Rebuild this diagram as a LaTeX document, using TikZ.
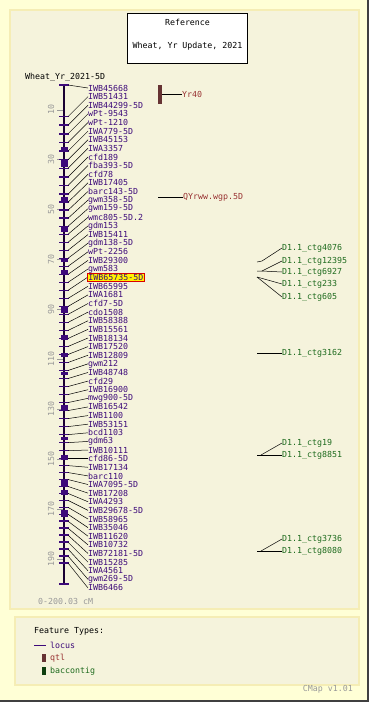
\documentclass[tikz,border=0pt]{standalone}
\usepackage{fontspec}
\setmainfont{DejaVu Sans Mono}
\definecolor{outerbg}{HTML}{FFFFD6}
\definecolor{panelbg}{HTML}{F5F3DC}
\definecolor{panelrule}{HTML}{F5EDB5}
\definecolor{locuscol}{HTML}{3D0A7A}
\definecolor{barcol}{HTML}{1A0033}
\definecolor{qtlcol}{HTML}{663333}
\definecolor{qtltext}{HTML}{993333}
\definecolor{ctgcol}{HTML}{1E6B1E}
\definecolor{ctgbox}{HTML}{0F3F0F}
\definecolor{rulecol}{HTML}{999999}
\begin{document}
\begin{tikzpicture}[x=1pt,y=-1pt,
  font=\fontsize{8.3}{9}\selectfont,
  lbl/.style={anchor=west, inner sep=0pt, text=locuscol},
  hl/.style={anchor=west, inner sep=1pt, text=locuscol, fill=yellow, draw=red!85!black, line width=0.8pt},
  conn/.style={black, line width=0.5pt},
  locustick/.style={locuscol, line width=1.5pt},
  qtl/.style={anchor=west, inner sep=0pt, text=qtltext},
  ctg/.style={anchor=west, inner sep=0pt, text=ctgcol},
  plain/.style={anchor=west, inner sep=0pt},
  panel/.style={draw=panelrule, fill=panelbg, line width=1.5pt}]
\useasboundingbox (0,0) rectangle (369,702);
\fill[outerbg] (0,0) rectangle (369,702);
\draw[panel] (10,10) rectangle (359,609);
\draw[panel] (15,617) rectangle (359,685);
\draw[gray!50!black, line width=1.5pt] (368,0) -- (368,701) -- (0,701);

% title box
\node[draw=black, fill=white, line width=0.6pt, minimum width=120pt, minimum height=50pt, inner sep=0pt] (refbox) at (187.5,38.5) {};
\node[inner sep=0pt] (reft) at (187.5,22) {Reference};
\node[inner sep=0pt] (refs) at (187.5,46) {Wheat, Yr Update, 2021};

% map title
\node[plain] (maptitle) at (25,77) {Wheat\_Yr\_2021-5D};

% ruler
\foreach \c in {10,30,...,190} {
  \pgfmathsetmacro\ry{85+2.495*\c}
  \draw[rulecol, line width=0.8pt] (57,\ry) -- (63,\ry);
  \node[rotate=90, text=rulecol, inner sep=0pt] (r\c) at (51,\ry) {\c};
}

% chromosome bar
\draw[barcol, line width=2pt] (64,85) -- (64,584);
\draw[locustick] (59,85) -- (69,85);
\draw[locustick] (59,584) -- (69,584);
\foreach \a/\b in {147/150,159/167,197/202,227/232,258/262,270/274,307/313,335/340,353/357,372/375,405/410,437/440,455/460,480/487,490/495,510/517}
  \fill[locuscol] (60.5,\a) rectangle (67.5,\b);

% loci
\foreach \name [count=\i from 0] in {IWB45668,IWB51431,IWB44299-5D,wPt-9543,wPt-1210,IWA779-5D,IWB45153,IWA3357,cfd189,fba393-5D,cfd78,IWB17405,barc143-5D,gwm358-5D,gwm159-5D,wmc805-5D.2,gdm153,IWB15411,gdm138-5D,wPt-2256,IWB29300,gwm583,IWB65735-5D,IWB65995,IWA1681,cfd7-5D,cdo1508,IWB58388,IWB15561,IWB18134,IWB17520,IWB12809,gwm212,IWB48748,cfd29,IWB16900,mwg900-5D,IWB16542,IWB1100,IWB53151,bcd1103,gdm63,IWB10111,cfd86-5D,IWB17134,barc110,IWA7095-5D,IWB17208,IWA4293,IWB29678-5D,IWB58965,IWB35046,IWB11620,IWB10732,IWB72181-5D,IWB15285,IWA4561,gwm269-5D,IWB6466} {
  \pgfmathsetmacro\ly{88+8.62*\i}
  \pgfmathsetmacro\off{\i==0 ? -3 : (\i<=10 ? 20 : (\i<=43 ? 20*(43-\i)/33 : -25*(\i-43)/15))}
  \pgfmathsetmacro\lo{\ly+\off}
  \coordinate (loc\i) at (68,\lo);
  \ifnum\i=22
    \node[hl] (lab\i) at (87,\ly) {\name};
  \else
    \node[lbl] (lab\i) at (88,\ly) {\name};
  \fi
  \draw[locustick] (59,\lo) -- (69,\lo);
  \draw[conn] (loc\i) -- (lab\i.west);
}

% QTLs
\fill[qtlcol] (158,85) rectangle (162,104);
\coordinate (yrq) at (162,94);
\node[qtl] (yr40) at (182,94) {Yr40};
\draw[conn] (yrq) -- (yr40.west);
\coordinate (qyq) at (158,197);
\node[qtl] (qyr) at (183,197) {QYrww.wgp.5D};
\draw[conn] (qyq) -- (qyr.west);

% bac contigs
\node[ctg] (c1) at (282,248) {D1.1\_ctg4076};
\node[ctg] (c2) at (282,261) {D1.1\_ctg12395};
\node[ctg] (c3) at (282,272) {D1.1\_ctg6927};
\node[ctg] (c4) at (282,284) {D1.1\_ctg233};
\node[ctg] (c5) at (282,297) {D1.1\_ctg605};
\node[ctg] (c6) at (282,353) {D1.1\_ctg3162};
\node[ctg] (c7) at (282,443) {D1.1\_ctg19};
\node[ctg] (c8) at (282,455) {D1.1\_ctg8851};
\node[ctg] (c9) at (282,539) {D1.1\_ctg3736};
\node[ctg] (c10) at (282,551) {D1.1\_ctg8080};
\coordinate (p1) at (257,262); \coordinate (q1) at (262,261);
\draw[conn] (p1) -- (q1) -- (c1.west);
\coordinate (p2) at (257,271); \coordinate (q2) at (262,271);
\draw[conn] (p2) -- (q2) -- (c2.west);
\draw[conn] (q2) -- (c3.west);
\coordinate (p3) at (257,277);
\draw[conn] (p3) -- (c4.west);
\draw[conn] (p3) -- (c5.west);
\coordinate (p6) at (257,353);
\draw[conn] (p6) -- (c6.west);
\coordinate (p7) at (257,455); \coordinate (q7) at (261,455);
\draw[conn] (p7) -- (c8.west);
\draw[conn] (q7) -- (c7.west);
\coordinate (p9) at (257,551); \coordinate (q9) at (261,551);
\draw[conn] (p9) -- (c10.west);
\draw[conn] (q9) -- (c9.west);

% scale
\node[plain, text=rulecol] (scale) at (38,601) {0-200.03 cM};

% legend
\node[plain] (ft) at (34,631) {Feature Types:};
\coordinate (lg1) at (34,645); \coordinate (lg2) at (46,645);
\draw[locuscol, line width=0.8pt] (lg1) -- (lg2);
\node[plain, text=locuscol] (lgl) at (50,645) {locus};
\fill[qtlcol] (42,654) rectangle (46,662);
\node[plain, text=qtltext] (lgq) at (50,658) {qtl};
\fill[ctgbox] (42,667) rectangle (46,675);
\node[plain, text=ctgcol] (lgc) at (50,671) {baccontig};
\node[anchor=east, inner sep=0pt, text=rulecol] (ver) at (353,689) {CMap v1.01};
\end{tikzpicture}
\end{document}
